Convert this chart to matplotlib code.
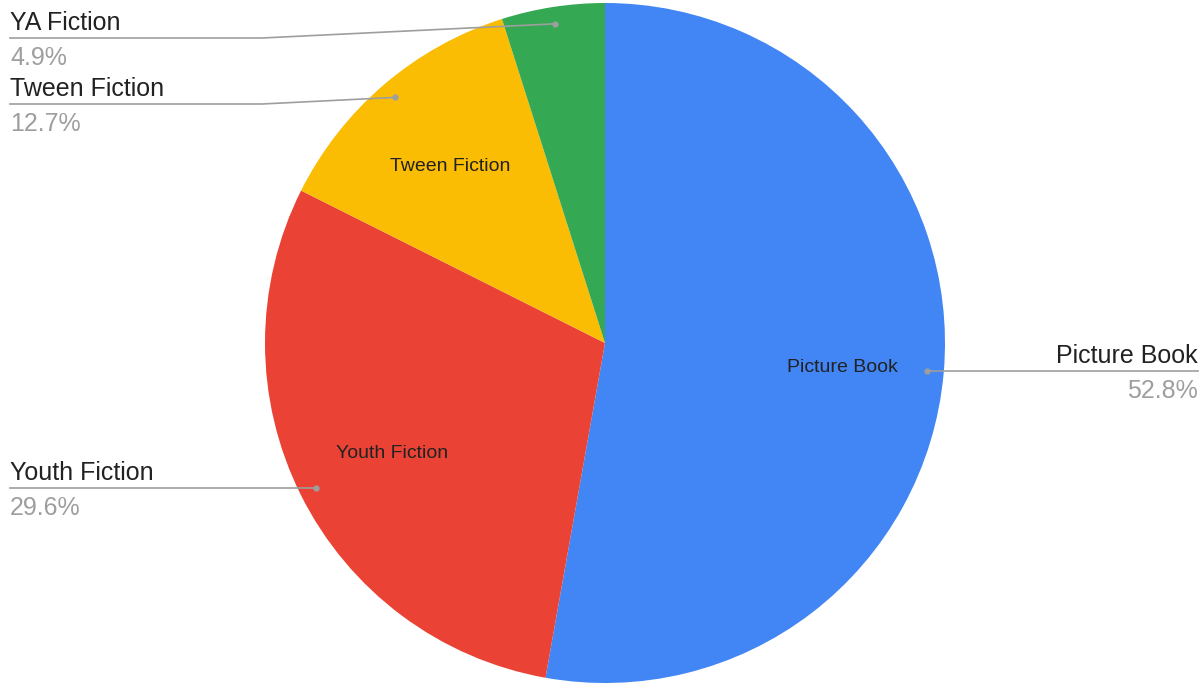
import numpy as np
import matplotlib
matplotlib.use('Agg')
import matplotlib.pyplot as plt

plt.rcParams['font.family'] = ['Liberation Sans', 'DejaVu Sans']

categories = ['Picture Book', 'Youth Fiction', 'Tween Fiction', 'YA Fiction']
shares = [52.8, 29.6, 12.7, 4.9]
colors = ['#4285F4', '#EA4335', '#FBBC04', '#34A853']
inner_label = [True, True, True, False]

W, H = 1202, 684
cx, cy, R = 605, H - 343, 340
# outer label line heights (image y) and bend x; None = straight from dot
line_y = [None, None, 104, 38]
bend_x = [None, None, 262, 262]

fig = plt.figure(figsize=(W / 100, H / 100), dpi=100)
ax = fig.add_axes([0, 0, 1, 1])

wedges, _ = ax.pie(shares, colors=colors, startangle=90, counterclock=False,
                   center=(cx, cy), radius=R, frame=True,
                   wedgeprops=dict(linewidth=0))
ax.set_xlim(0, W)
ax.set_ylim(0, H)
ax.set_aspect('equal')
ax.axis('off')

gray_line = '#9e9e9e'
for w, name, val, inner, ly, bx in zip(wedges, categories, shares, inner_label, line_y, bend_x):
    mid = np.deg2rad((w.theta1 + w.theta2) / 2)
    dx, dy = np.cos(mid), np.sin(mid)
    if inner:
        ax.text(cx + 0.7 * R * dx, cy + 0.7 * R * dy - 4, name, ha='center', va='center',
                fontsize=14, color='#222222')
    px, py = cx + 0.95 * R * dx, cy + 0.95 * R * dy
    ax.plot([px], [py], 'o', ms=3.5, color=gray_line, zorder=5)
    right = dx > 0
    ty = py if ly is None else H - ly
    end_x = W - 4 if right else 10
    if bx is None:
        xs, ys = [px, end_x], [py, ty]
    else:
        xs, ys = [px, bx, end_x], [py, ty, ty]
    ax.plot(xs, ys, color=gray_line, lw=1.2, zorder=4)
    ha = 'right' if right else 'left'
    ax.text(end_x, ty + 8, name, ha=ha, va='baseline', fontsize=18, color='#222222')
    ax.text(end_x, ty - 8, f'{val}%', ha=ha, va='top', fontsize=18, color='#9e9e9e')

fig.savefig('out.png', dpi=100, facecolor='white')
